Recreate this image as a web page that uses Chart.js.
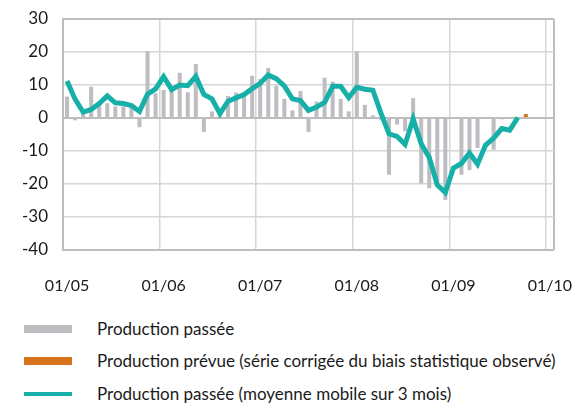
<!DOCTYPE html>
<html>
<head>
<meta charset="utf-8">
<script src="https://cdn.jsdelivr.net/npm/chart.js@4/dist/chart.umd.min.js"></script>
<style>
  body { margin: 0; background: #fff; font-family: Lato, "Open Sans", sans-serif; }
  #wrap { position: relative; width: 579px; height: 405px; overflow: hidden; }
  #mychart { position: absolute; left: 0; top: 0; }
  .leg { position: absolute; left: 0; height: 20px; font-size: 17px; color: #1a1a1a; white-space: nowrap; }
  .leg .sw { position: absolute; left: 24px; width: 48px; }
  .leg .txt { position: absolute; left: 97px; top: 0; line-height: 20px; }
</style>
</head>
<body>
<div id="wrap">
  <canvas id="mychart" width="579" height="300"></canvas>
  <div class="leg" style="top:319px"><span class="sw" style="top:6px;height:8px;background:#bebec2"></span><span class="txt">Production passée</span></div>
  <div class="leg" style="top:351px"><span class="sw" style="top:6px;height:8px;background:#d7731d"></span><span class="txt">Production prévue (série corrigée du biais statistique observé)</span></div>
  <div class="leg" style="top:384px"><span class="sw" style="top:8px;height:4px;background:#17b0a8"></span><span class="txt">Production passée (moyenne mobile sur 3 mois)</span></div>
</div>
<script>
// months from 01/05 to 01/10
var months = [];
for (let y = 5; y <= 10; y++) {
    for (let m = 1; m <= 12; m++) {
        if (y === 10 && m > 1) break;
        months.push((m < 10 ? '0' + m : '' + m) + '/' + (y < 10 ? '0' + y : '' + y));
    }
}

// production passée (monthly bars)
var productionPassee = [
    6.5, -0.7, 2.5, 9.5, 4, 4.5, 3.5, 3.5, 3.5, -2.8, 20.2, 7.5,
    8.5, 9.5, 13.7, 7.8, 16.4, -4.2, 2, 0.5, 6.7, 7.7, 7.5, 12.8,
    11.8, 15.2, 9.8, 5.8, 2.3, 8.2, -4.2, 5, 12.2, 11, 5.8, 2,
    20.2, 4, 0.8, -0.5, -17.2, -2, -4, 6, -19.8, -21.3, -19.5, -24.8,
    -0.3, -17.2, -15.8, -9.1, -0.3, -9.6, -0.4, -0.3, -0.2
];

// production prévue (one point, 10/09)
var productionPrevue = [];
productionPrevue[57] = 1.2;

// moyenne mobile sur 3 mois
var moyenneMobile = [
    11.2, 5.7, 1.8, 2.6, 4.4, 6.7, 4.6, 4.4, 3.8, 2, 7.2, 8.8,
    12.5, 8.6, 10, 9.8, 12.6, 7.1, 5.8, 1.3, 5.1, 6.1, 7.1, 8.9,
    10.5, 13, 11.9, 9.7, 5.8, 5.3, 2.3, 3.3, 4.7, 9.6, 9.6, 6.2,
    9.3, 8.7, 8.4, 1.5, -4.8, -5.6, -8, -0.3, -7.8, -12, -20.3, -22.6,
    -15.2, -13.8, -10.6, -14, -8.2, -6.1, -3.2, -3.7, 0.1
];

var yTicks = [-40, -30, -20, -10, 0, 10, 20, 30];

var frameColor = '#bdbdbd';
var gridColor = '#d6d6d6';

var ctx = document.getElementById("mychart").getContext('2d');
var chart = new Chart(ctx, {
    type: 'bar',
    data: {
        labels: months,
        datasets: [{
            type: 'line',
            data: moyenneMobile,
            borderColor: '#17b0a8',
            borderWidth: 5,
            pointRadius: 0,
            tension: 0,
            order: 0
        }, {
            data: productionPassee,
            backgroundColor: '#bebec2',
            barPercentage: 0.5,
            categoryPercentage: 1,
            grouped: false,
            order: 1
        }, {
            data: productionPrevue,
            backgroundColor: '#d7731d',
            barPercentage: 0.5,
            categoryPercentage: 1,
            grouped: false,
            order: 1
        }]
    },
    options: {
        responsive: false,
        animation: false,
        layout: { padding: { top: 19, right: 25, left: 0, bottom: 0 } },
        plugins: {
            legend: { display: false },
            tooltip: { enabled: false }
        },
        scales: {
            x: {
                offset: true,
                grid: {
                    offset: true,
                    drawTicks: false,
                    color: function (c) {
                        if (c.index === undefined) return frameColor;
                        return c.index % 12 === 0 ? gridColor : 'rgba(0,0,0,0)';
                    },
                    lineWidth: function (c) {
                        return c.index === undefined ? 2 : 1.5;
                    }
                },
                border: { color: frameColor, width: 2 },
                ticks: {
                    autoSkip: false,
                    maxRotation: 0,
                    padding: 26,
                    color: '#1a1a1a',
                    font: { family: 'Lato', size: 16 },
                    callback: function (v, i) {
                        return months[i].indexOf('01/') === 0 ? months[i] : '';
                    }
                },
                afterFit: function (s) {
                    s.height = 50;
                    s.paddingLeft = 0;
                    s.paddingRight = 0;
                }
            },
            y: {
                min: -40,
                max: 30,
                afterBuildTicks: function (s) {
                    s.ticks = yTicks.map(function (v) { return { value: v }; });
                },
                grid: {
                    drawTicks: false,
                    color: function (c) {
                        return (c.tick && (c.tick.value === 0 || c.tick.value === 30)) ? frameColor : gridColor;
                    },
                    lineWidth: function (c) {
                        return (c.tick && (c.tick.value === 0 || c.tick.value === 30)) ? 2 : 1.5;
                    }
                },
                border: { color: frameColor, width: 2 },
                ticks: {
                    padding: 15,
                    color: '#1a1a1a',
                    font: { family: 'Lato', size: 17 }
                },
                afterFit: function (s) {
                    s.width = 63;
                    s.paddingTop = 0;
                    s.paddingBottom = 0;
                }
            }
        }
    }
});
</script>
</body>
</html>
